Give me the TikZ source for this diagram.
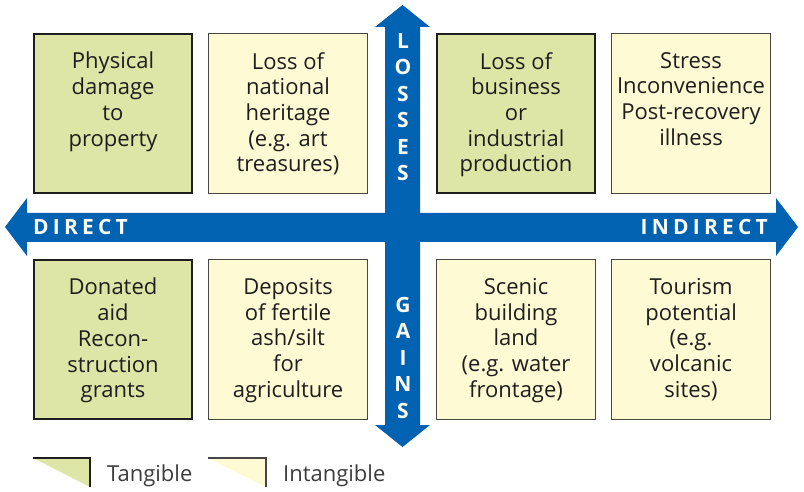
\documentclass[tikz,border=0pt]{standalone}
\usepackage{fontspec}
\setmainfont{Open Sans}
\newfontfamily\arrowfont[LetterSpace=20]{Open Sans}
\definecolor{tanfill}{RGB}{221,230,166}
\definecolor{intfill}{RGB}{254,250,212}
\definecolor{tanline}{RGB}{30,30,30}
\definecolor{intline}{RGB}{70,70,70}
\definecolor{arrowblue}{RGB}{0,98,176}
\definecolor{textcol}{RGB}{30,30,30}
\definecolor{legcol}{RGB}{60,60,60}
\begin{document}
\begin{tikzpicture}[x=1pt,y=-1pt,
  tanbox/.style={draw=tanline, line width=2pt, fill=tanfill, minimum width=158pt, minimum height=159pt, anchor=north west, inner sep=0pt},
  intbox/.style={draw=intline, line width=1.1pt, fill=intfill, minimum width=159pt, minimum height=160pt, anchor=north west, inner sep=0pt},
  boxtext/.style={anchor=north, align=center, font=\fontsize{22}{25.7}\selectfont, text=textcol, inner sep=0pt},
  arrowtext/.style={text=white, inner sep=0pt, font=\arrowfont\bfseries\fontsize{21}{26.5}\selectfont},
  legtext/.style={anchor=base west, text=legcol, inner sep=0pt, font=\fontsize{22}{24}\selectfont}]
\useasboundingbox (0,0) rectangle (804,492);
% arrows
\fill[arrowblue] (5,227) -- (27,198) -- (27,213) -- (776,213) -- (776,198) -- (798,227) -- (776,256) -- (776,242) -- (27,242) -- (27,256) -- cycle;
\fill[arrowblue] (402.5,5) -- (430,27) -- (420,27) -- (420,425) -- (430,425) -- (402.5,447) -- (375,425) -- (385,425) -- (385,27) -- (375,27) -- cycle;
% boxes
\node[tanbox] (b1) at (33,33) {};
\node[intbox] (b2) at (208,33) {};
\node[tanbox] (b3) at (436,33) {};
\node[intbox] (b4) at (611,33) {};
\node[tanbox] (b5) at (33,259) {};
\node[intbox] (b6) at (208,259) {};
\node[intbox] (b7) at (436,259) {};
\node[intbox] (b8) at (611,259) {};
\node[boxtext] (t1) at ([yshift=-19pt]b1.north) {Physical\\damage\\to\\property};
\node[boxtext] (t2) at ([yshift=-19pt]b2.north) {Loss of\\national\\heritage\\(e.g. art\\treasures)};
\node[boxtext] (t3) at ([yshift=-19pt]b3.north) {Loss of\\business\\or\\industrial\\production};
\node[boxtext] (t4) at ([yshift=-19pt]b4.north) {Stress\\Inconvenience\\Post-recovery\\illness};
\node[boxtext] (t5) at ([yshift=-19pt]b5.north) {Donated\\aid\\Recon-\\struction\\grants};
\node[boxtext] (t6) at ([yshift=-19pt]b6.north) {Deposits\\of fertile\\ash/silt\\for\\agriculture};
\node[boxtext] (t7) at ([yshift=-19pt]b7.north) {Scenic\\building\\land\\(e.g. water\\frontage)};
\node[boxtext] (t8) at ([yshift=-19pt]b8.north) {Tourism\\potential\\(e.g.\\volcanic\\sites)};
% arrow labels
\node[arrowtext, anchor=base west] (direct) at (33,234) {DIRECT};
\node[arrowtext, anchor=base east] (indirect) at (768,234) {INDIRECT};
\node[arrowtext, anchor=north, align=center] (losses) at (403,33) {L\\O\\S\\S\\E\\S};
\node[arrowtext, anchor=north, align=center] (gains) at (403,297) {G\\A\\I\\N\\S};
% legend
\fill[tanfill] (33,458) -- (90,458) -- (90,487) -- cycle;
\draw[tanline, line width=2pt] (33,458) -- (90,458) -- (90,487);
\node[legtext] (ltan) at (107,481) {Tangible};
\fill[intfill] (208,458) -- (266,458) -- (266,487) -- cycle;
\draw[intline, line width=1.1pt] (208,458) -- (266,458) -- (266,487);
\node[legtext] (lint) at (283,481) {Intangible};
\end{tikzpicture}
\end{document}
